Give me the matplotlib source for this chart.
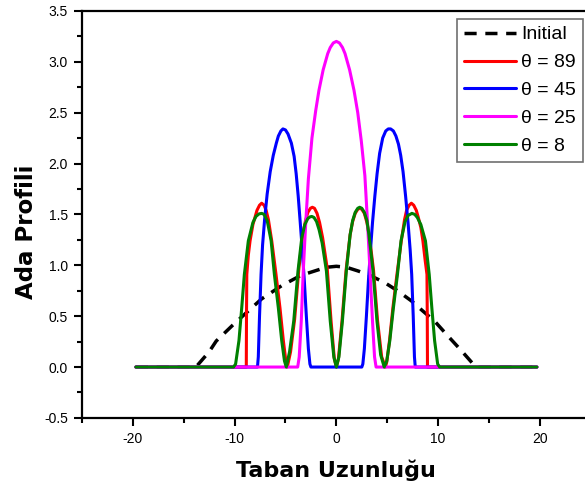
import matplotlib
matplotlib.use('Agg')
import matplotlib.pyplot as plt
from matplotlib.ticker import MultipleLocator, FormatStrFormatter

# values
initial_x = [-19.7, -13.8, -12.5, -11.8, -10.2, -9.0, -7.34, -5.37, -3.5, -2.1, -1.0, 0.0,
             1.0, 2.1, 3.1, 4.74, 6.0, 7.37, 8.5, 9.66, 10.96, 12.2, 13.7, 19.7]
initial_y = [0.0, 0.0, 0.15, 0.256, 0.41, 0.52, 0.67, 0.8, 0.9, 0.945, 0.98, 0.99,
             0.98, 0.945, 0.91, 0.83, 0.75, 0.65, 0.55, 0.45, 0.305, 0.17, 0.0, 0.0]

t89_x = [-19.7, -8.85, -8.83, -8.8, -8.65, -8.48, -8.2, -8.0, -7.8, -7.55, -7.34, -7.1, -6.9, -6.68, -6.35,
         -5.93, -5.54, -5.21, -4.95, -4.82,
         -4.5, -4.1, -3.68, -3.3, -3.05, -2.8, -2.55, -2.36, -2.15, -1.9, -1.65, -1.35, -0.9, -0.52, -0.2, 0.0,
         0.2, 0.55, 0.95, 1.35, 1.6, 1.85, 2.1, 2.3, 2.5, 2.75, 3.0, 3.25, 3.65, 4.05, 4.45, 4.82,
         4.95, 5.22, 5.55, 5.95, 6.38, 6.7, 6.9, 7.15, 7.37, 7.6, 7.85, 8.05, 8.3, 8.5, 8.72, 8.9, 8.93, 8.95, 19.7]
t89_y = [0.0, 0.0, 0.5, 0.91, 1.1, 1.24, 1.4, 1.47, 1.54, 1.59, 1.61, 1.59, 1.54, 1.45, 1.24,
         0.91, 0.58, 0.26, 0.05, 0.0,
         0.15, 0.47, 0.97, 1.3, 1.43, 1.52, 1.56, 1.57, 1.56, 1.51, 1.42, 1.27, 0.97, 0.45, 0.08, 0.0,
         0.08, 0.45, 0.95, 1.3, 1.43, 1.51, 1.55, 1.56, 1.55, 1.51, 1.42, 1.28, 0.95, 0.45, 0.1, 0.0,
         0.05, 0.26, 0.58, 0.91, 1.24, 1.45, 1.54, 1.59, 1.61, 1.59, 1.54, 1.47, 1.37, 1.24, 1.05, 0.91, 0.5, 0.0, 0.0]

t45_x = [-19.7, -7.75, -7.67, -7.55, -7.4, -7.25, -7.05, -6.8, -6.5, -6.2, -5.9, -5.7, -5.45, -5.25, -5.0, -4.75,
         -4.42, -4.15, -3.95, -3.75, -3.55, -3.35, -3.15, -2.95, -2.75, -2.6, -2.5,
         2.5, 2.6, 2.75, 2.95, 3.15, 3.35, 3.55, 3.78, 4.0, 4.25, 4.55, 4.85, 5.1, 5.33, 5.6, 5.85, 6.1, 6.32,
         6.55, 6.8, 7.04, 7.25, 7.4, 7.55, 7.67, 7.75, 19.7]
t45_y = [0.0, 0.0, 0.1, 0.5, 0.91, 1.2, 1.45, 1.7, 1.92, 2.08, 2.2, 2.27, 2.32, 2.34, 2.33, 2.29,
         2.2, 2.07, 1.9, 1.68, 1.42, 1.15, 0.85, 0.5, 0.18, 0.03, 0.0,
         0.0, 0.03, 0.18, 0.5, 0.85, 1.15, 1.42, 1.68, 1.9, 2.1, 2.25, 2.32, 2.34, 2.34, 2.32, 2.27, 2.19, 2.08,
         1.92, 1.68, 1.42, 1.15, 0.91, 0.5, 0.1, 0.0, 0.0]

t25_x = [-19.7, -3.8, -3.65, -3.45, -3.25, -3.02, -2.75, -2.4, -2.03, -1.71, -1.3, -0.85, -0.6, -0.3, 0.0,
         0.3, 0.6, 0.85, 1.3, 1.73, 2.1, 2.45, 2.8, 3.05, 3.3, 3.55, 3.75, 3.9, 19.7]
t25_y = [0.0, 0.0, 0.1, 0.45, 0.95, 1.4, 1.85, 2.25, 2.52, 2.72, 2.92, 3.08, 3.14, 3.185, 3.2,
         3.185, 3.14, 3.08, 2.92, 2.72, 2.5, 2.22, 1.88, 1.44, 0.95, 0.45, 0.1, 0.0, 0.0]

t8_x = [-19.7, -10.1, -9.9, -9.57, -9.3, -9.04, -8.65, -8.2, -7.9, -7.6, -7.34, -7.1, -6.8, -6.41,
        -6.09, -5.7, -5.37, -5.1, -4.92,
        -4.6, -4.19, -3.77, -3.4, -3.1, -2.8, -2.6, -2.42, -2.2, -1.95, -1.7, -1.4, -0.98, -0.6, -0.25, 0.0,
        0.25, 0.59, 0.98, 1.35, 1.6, 1.85, 2.1, 2.29, 2.5, 2.75, 3.0, 3.2, 3.6, 3.99, 4.35, 4.7,
        4.95, 5.25, 5.6, 6.0, 6.35, 6.75, 7.05, 7.42, 7.7, 7.95, 8.3, 8.75, 9.12, 9.38, 9.65, 9.95, 10.15, 19.7]
t8_y = [0.0, 0.0, 0.03, 0.26, 0.58, 0.91, 1.24, 1.42, 1.48, 1.505, 1.51, 1.5, 1.44, 1.24,
        0.91, 0.58, 0.26, 0.06, 0.0,
        0.15, 0.45, 0.945, 1.27, 1.4, 1.46, 1.475, 1.48, 1.47, 1.43, 1.35, 1.22, 0.945, 0.45, 0.1, 0.0,
        0.1, 0.45, 0.945, 1.3, 1.44, 1.52, 1.56, 1.57, 1.56, 1.52, 1.44, 1.3, 0.945, 0.45, 0.12, 0.0,
        0.06, 0.26, 0.58, 0.91, 1.24, 1.43, 1.49, 1.51, 1.5, 1.47, 1.4, 1.24, 0.91, 0.58, 0.26, 0.03, 0.0, 0.0]

plt.rcParams['font.family'] = ['Liberation Sans', 'DejaVu Sans']
plt.rcParams['axes.unicode_minus'] = False

fig = plt.figure(figsize=(5.85, 4.94), dpi=100)
ax = fig.add_axes([0.140, 0.154, 0.870, 0.824])

line_kw = dict(lw=2.2, solid_joinstyle='round', solid_capstyle='round')
ax.plot(initial_x, initial_y, color='black', lw=2.5, dashes=(3.5, 2.5), label='Initial')
ax.plot(t89_x, t89_y, color='#ff0000', label='θ = 89', **line_kw)
ax.plot(t45_x, t45_y, color='#0000ff', label='θ = 45', **line_kw)
ax.plot(t25_x, t25_y, color='#ff00ff', label='θ = 25', **line_kw)
ax.plot(t8_x, t8_y, color='#008000', label='θ = 8', **line_kw)

ax.set_xlim(-25, 25)
ax.set_ylim(-0.5, 3.5)
ax.xaxis.set_major_locator(MultipleLocator(10))
ax.xaxis.set_minor_locator(MultipleLocator(5))
ax.yaxis.set_major_locator(MultipleLocator(0.5))
ax.yaxis.set_minor_locator(MultipleLocator(0.25))
ax.yaxis.set_major_formatter(FormatStrFormatter('%.1f'))
ax.tick_params(which='major', direction='out', length=6, width=1.5, labelsize=10, pad=4)
ax.tick_params(which='minor', direction='out', length=3.5, width=1.5)

for side in ['left', 'bottom', 'top']:
    ax.spines[side].set_linewidth(1.6)
ax.spines['right'].set_visible(False)

ax.set_xlabel('Taban Uzunluğu', family='DejaVu Sans', fontweight='bold', fontsize=16, labelpad=10)
ax.set_ylabel('Ada Profili', family='DejaVu Sans', fontweight='bold', fontsize=16.5)
ax.yaxis.set_label_coords(-0.087, 0.456)

leg = ax.legend(loc='upper left', bbox_to_anchor=(0.737, 0.980), borderaxespad=0,
                fontsize=14, handlelength=2.7, handletextpad=0.25, labelspacing=0.53,
                borderpad=0.35, fancybox=False, framealpha=1)
leg.get_frame().set_edgecolor('#707070')
leg.get_frame().set_linewidth(1.2)

plt.savefig('out.png', dpi=100)
